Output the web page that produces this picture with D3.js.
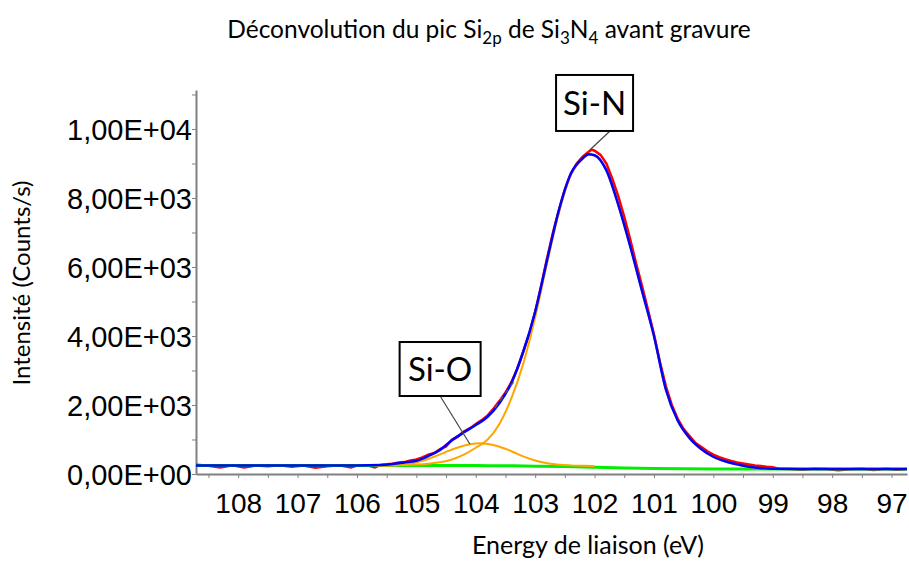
<!DOCTYPE html>
<html lang="fr">
<head>
<meta charset="UTF-8">
<title>Déconvolution Si2p</title>
<script src="https://cdn.jsdelivr.net/npm/d3@7/dist/d3.min.js"></script>
<style>
  body { margin: 0; background: #fff; }
  .axis path, .axis line { stroke: #808080; }
  .axis text { font-family: "Liberation Sans", Arial, sans-serif; font-size: 28px; fill: #000; }
  .lbl { font-family: Lato, "Open Sans", sans-serif; fill: #000; }
</style>
</head>
<body>
<div id="chart"></div>
<script>
// binding energies (eV) and intensities (counts/s)
var dataE = [108.7,108.5,108.3,108.1,107.9,107.7,107.5,107.3,107.1,106.9,106.7,106.5,106.3,106.1,
  106.0,105.9,105.8,105.7,105.6,105.5,105.4,105.3,105.2,105.1,105.0,104.9,104.8,104.7,104.6,104.5,
  104.4,104.3,104.2,104.1,104.0,103.9,103.8,103.7,103.6,103.5,103.4,103.3,103.2,103.1,103.0,102.9,
  102.8,102.7,102.6,102.5,102.4,102.3,102.2,102.1,102.05,102.0,101.9,101.8,101.7,101.6,101.5,101.4,
  101.3,101.2,101.1,101.0,100.9,100.8,100.7,100.6,100.5,100.4,100.3,100.2,100.1,100.0,99.9,99.8,
  99.7,99.6,99.5,99.4,99.3,99.2,99.1,99.0,98.9,98.7,98.5,98.3,98.1,97.9,97.7,97.5,97.3,97.1,96.9,96.75];
var dataI = [268,240,188,250,190,248,225,250,212,246,185,222,250,190,
  248,252,240,190,265,280,300,330,345,395,420,480,560,610,720,800,
  1000,1080,1230,1320,1450,1560,1700,1900,2120,2360,2660,3050,3550,4050,4700,5450,
  6250,7000,7650,8250,8700,9000,9200,9340,9400,9370,9250,9000,8550,8050,7450,6800,
  6100,5450,4750,4050,3250,2550,2000,1600,1300,1100,900,780,660,560,490,430,
  375,335,305,275,245,230,210,195,150,148,120,152,146,112,140,150,114,150,120,145];

var fitE = [108.71,108.0,107.0,106.0,105.6,105.4,105.2,105.0,104.8,104.6,104.4,104.2,104.0,103.8,
  103.6,103.4,103.2,103.0,102.8,102.6,102.4,102.2,102.1,102.0,101.8,101.6,101.4,101.2,101.0,100.8,
  100.6,100.4,100.2,100.0,99.8,99.6,99.4,99.2,99.0,98.5,98.0,97.0,96.74];
var fitI = [250,248,246,248,262,290,335,385,520,700,980,1210,1420,1660,
  2060,2640,3550,4700,6200,7650,8700,9150,9270,9240,8800,7800,6600,5300,4000,2450,
  1550,1040,720,500,370,280,210,170,155,148,146,145,145];

var sioE = [105.7,105.3,105.1,104.9,104.7,104.5,104.3,104.1,103.93,103.8,103.6,103.4,103.2,103.0,
  102.8,102.6,102.4,102.2,102.0];
var sioI = [248,262,295,380,500,640,770,860,890,870,790,660,510,390,310,270,250,238,228];

var sinE = [105.7,105.2,104.8,104.6,104.4,104.2,104.0,103.8,103.6,103.4,103.2,103.0,102.8,102.6,
  102.4,102.2,102.1,102.0,101.8,101.6,101.4,101.2,101.0,100.8,100.6,100.4,100.2,100.0,99.8,99.6,
  99.4,99.2,99.0];
var sinI = [248,262,300,340,420,560,760,1000,1460,2200,3200,4540,6100,7570,
  8660,9130,9255,9230,8790,7790,6590,5290,3990,2440,1540,1030,710,490,360,270,
  200,160,150];

var bgE = [108.71,105.6,104.5,104.0,103.5,103.0,102.5,102.0,101.5,101.0,100.5,100.0,99.2,96.74];
var bgI = [248,248,246,243,238,228,215,195,172,158,150,147,145,145];

var yTicks = [0,1000,2000,3000,4000,5000,6000,7000,8000,9000,10000,11000];
var yTickLabels = {0:"0,00E+00",2000:"2,00E+03",4000:"4,00E+03",6000:"6,00E+03",8000:"8,00E+03",10000:"1,00E+04"};
var xTicks = [108.5,108,107.5,107,106.5,106,105.5,105,104.5,104,103.5,103,102.5,102,101.5,101,100.5,100,99.5,99,98.5,98,97.5,97];

// labels: text, box centre in data units, leader end in data units
var notes = [
  {text:"Si-N", e:102.0, i:10754, fromE:101.74, fromI:9942, toE:102.08, toI:9391},
  {text:"Si-O", e:104.6, i:3043, fromE:104.59, fromI:2232, toE:104.10, toI:870}
];
var stray = [[103.68,1913],[103.34,2725]];

var width = 909, height = 561;
var margin = {top: 90, right: 2, bottom: 87, left: 196};

var svg = d3.select("#chart").append("svg")
  .attr("width", width).attr("height", height);

var x = d3.scaleLinear().domain([108.71, 96.74]).range([margin.left, width - margin.right]);
var y = d3.scaleLinear().domain([0, 11130]).range([height - margin.bottom, margin.top]);

// title
var title = svg.append("text").attr("class","lbl")
  .attr("x", 489).attr("y", 38).attr("text-anchor","middle").attr("font-size", 24.5);
title.append("tspan").text("Déconvolution du pic Si");
title.append("tspan").attr("font-size", 17).attr("dy", 6).text("2p");
title.append("tspan").attr("dy", -6).text(" de Si");
title.append("tspan").attr("font-size", 17).attr("dy", 6).text("3");
title.append("tspan").attr("dy", -6).text("N");
title.append("tspan").attr("font-size", 17).attr("dy", 6).text("4");
title.append("tspan").attr("dy", -6).text(" avant gravure");

// axes
var yAxis = d3.axisLeft(y).tickValues(yTicks).tickSize(4).tickSizeOuter(0).tickPadding(0)
  .tickFormat(function(d){ return yTickLabels[d] || ""; });
var gy = svg.append("g").attr("class","axis")
  .attr("transform","translate(" + margin.left + ",0)").call(yAxis);
gy.select(".domain").attr("stroke-width", 2);
gy.selectAll(".tick text").attr("dy", "0.36em").style("font-size", "29px");

var xAxis = d3.axisBottom(x).tickValues(xTicks).tickSize(4).tickSizeOuter(0).tickPadding(15)
  .tickFormat(function(d){ return Number.isInteger(d) ? d : ""; });
var gx = svg.append("g").attr("class","axis")
  .attr("transform","translate(0," + (height - margin.bottom) + ")").call(xAxis);
gx.select(".domain").attr("stroke-width", 2);

svg.append("text").attr("class","lbl")
  .attr("transform","translate(30,283) rotate(-90)")
  .attr("text-anchor","middle").attr("font-size", 24)
  .text("Intensité (Counts/s)");
svg.append("text").attr("class","lbl")
  .attr("x", 588).attr("y", 554).attr("text-anchor","middle").attr("font-size", 25)
  .text("Energy de liaison (eV)");

function series(E, I) { return E.map(function(e, k){ return [e, I[k]]; }); }

var raw = d3.line().x(function(d){ return x(d[0]); }).y(function(d){ return y(d[1]); });
var smooth = d3.line().x(function(d){ return x(d[0]); }).y(function(d){ return y(d[1]); })
  .curve(d3.curveMonotoneX);

svg.append("path").datum(series(dataE, dataI))
  .attr("fill","none").attr("stroke","#ff0000").attr("stroke-width",2.5).attr("d", raw);
svg.append("path").datum(series(bgE, bgI))
  .attr("fill","none").attr("stroke","#00ee00").attr("stroke-width",3).attr("d", smooth);
svg.append("path").datum(series(sioE, sioI))
  .attr("fill","none").attr("stroke","#ffa500").attr("stroke-width",2).attr("d", smooth);
svg.append("path").datum(series(sinE, sinI))
  .attr("fill","none").attr("stroke","#ffa500").attr("stroke-width",2).attr("d", smooth);
svg.append("path").datum(series(fitE, fitI))
  .attr("fill","none").attr("stroke","#0000ff").attr("stroke-width",2.5).attr("d", smooth);

svg.append("path").datum(stray)
  .attr("fill","none").attr("stroke","#555").attr("stroke-width",1.5)
  .attr("stroke-dasharray","5,4").attr("d", raw);

// annotation boxes
notes.forEach(function(n){
  svg.append("line")
    .attr("x1", x(n.fromE)).attr("y1", y(n.fromI))
    .attr("x2", x(n.toE)).attr("y2", y(n.toI))
    .attr("stroke","#444").attr("stroke-width",1.2);
  var bw = n.text == "Si-N" ? 77 : 81, bh = n.text == "Si-N" ? 56 : 54;
  svg.append("rect")
    .attr("x", x(n.e) - bw/2).attr("y", y(n.i) - bh/2)
    .attr("width", bw).attr("height", bh)
    .attr("fill","#fff").attr("stroke","#000").attr("stroke-width",2);
  svg.append("text").attr("class","lbl")
    .attr("x", x(n.e)).attr("y", y(n.i) + 12)
    .attr("text-anchor","middle").attr("font-size", 33)
    .text(n.text);
});
</script>
</body>
</html>
